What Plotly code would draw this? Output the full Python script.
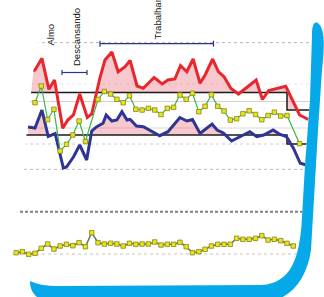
import numpy as np
import plotly.graph_objects as go

# ---------------- data (time index t, value v) ----------------
green_t = [0,1,2,3,4,5,6,7,8,10,11,12,13,14,15,16,17,18,19,20,21,22,23,24,25,26,27,28,29,30,
           31,32,33,34,35,36,37,38,39,40,42]
green_v = [194.3,211,177.5,187.7,146,152.7,162,176,155.5,197.5,205.5,203,197.7,194.3,201.3,187.7,
           187,188.7,187,182.5,188.7,189.7,202,197.7,203.7,185.3,190.7,202.3,190.7,186,
           177,178.3,183.2,186.2,182.5,177.3,181.5,184.8,181,181.5,153.3]

red_t = [-1.1,0,1.1,2.2,3.1,4.4,5.2,6.1,7.1,8.3,9,10.3,11.1,12.2,13.2,14.3,15.1,16.2,17.2,18.9,
         20.2,21.1,22.2,23.1,24.1,25.1,26.2,27.0,28.2,29.1,30.0,31.1,32.3,35.1,36.1,37.1,39.8,42.0,43.4]
red_v = [225,227,238.7,207.7,217,168.7,177,182,203,179.5,183,219,237,245,225.3,230.3,236.5,211,
         208.7,219.5,213,217,218,231.5,225.3,238,213.7,222,238,225.5,220.3,208.5,203,217,197.5,
         206.5,210.7,182,177.5]

blue_t = [-1.1,0,1.1,2.1,3.2,4.5,5.0,6.1,7.1,8.2,9.0,9.8,10.8,11.3,12.2,13.0,13.8,14.6,15.1,16.1,
          17.2,19.8,21.1,23.0,24.1,25.0,26.2,28.1,28.9,29.9,31.2,34.1,35.2,36.3,37.8,38.9,39.9,
          41.0,42.1,43.1]
blue_v = [170,169,187,160.5,163.5,129,130,140,152,137,166,170.3,173.7,182,176,177,185.3,177,177.7,
          171,170.3,161.3,165.3,179.5,176,177.5,163.5,173,167,164,156,165.3,160.3,162,167,162.5,
          160.5,149,133.7,132]

low_t = list(range(-3, 42))
low_v = [44.3,45.3,42.7,43.7,48.7,53,48,51,52.7,51.3,54.3,50.3,64.3,54.3,53,53.7,53,51,53.7,52.7,
         53,53,55,52,52.7,52.7,54.7,50.3,44.3,45.3,47.7,51,52.7,52.7,52.7,58.7,57.7,57.7,58.7,
         61.3,57,57.7,56.3,53.7,51]

# thresholds (step at t=40)
upper_t = [-2, 40, 40, 44]
upper_v = [204.5, 204.5, 187, 187]
lower_t = [-2, 40, 40, 44]
lower_v = [162, 162, 153, 153]

# reference grid lines (value units)
grid_vals = [254.3, 213, 195.5, 169, 153, 127.7, 85.3, 43]

labels = ["Almo", "Descansando", "Trabalhando"]

# ---------------- figure ----------------
fig = go.Figure()

def thr_fn(t, tt, vv):
    return np.where(t < tt[1], vv[0], vv[-1])

PINK = "rgba(236,120,135,0.40)"

g = np.arange(red_t[0], red_t[-1] + 1e-9, 0.01)
thr = thr_fn(g, upper_t, upper_v)
ri = np.interp(g, red_t, red_v)
fig.add_trace(go.Scatter(x=g, y=thr, mode="lines", line=dict(width=0), hoverinfo="skip", showlegend=False))
fig.add_trace(go.Scatter(x=g, y=np.maximum(ri, thr), mode="lines", line=dict(width=0), fill="tonexty",
                         fillcolor=PINK, hoverinfo="skip", showlegend=False))
g2 = np.arange(blue_t[0], blue_t[-1] + 1e-9, 0.01)
thr2 = thr_fn(g2, lower_t, lower_v)
bi = np.interp(g2, blue_t, blue_v)
fig.add_trace(go.Scatter(x=g2, y=thr2, mode="lines", line=dict(width=0), hoverinfo="skip", showlegend=False))
fig.add_trace(go.Scatter(x=g2, y=np.maximum(bi, thr2), mode="lines", line=dict(width=0), fill="tonexty",
                         fillcolor=PINK, hoverinfo="skip", showlegend=False))

for tt, vv in [(upper_t, upper_v), (lower_t, lower_v)]:
    fig.add_trace(go.Scatter(x=tt, y=vv, mode="lines", line=dict(color="#1b1b1b", width=1.5),
                             hoverinfo="skip", showlegend=False))

fig.add_trace(go.Scatter(x=red_t, y=red_v, mode="lines", line=dict(color="#e8262b", width=3),
                         showlegend=False))
fig.add_trace(go.Scatter(x=blue_t, y=blue_v, mode="lines", line=dict(color="#2e3592", width=3),
                         showlegend=False))
fig.add_trace(go.Scatter(x=green_t, y=green_v, mode="lines+markers",
                         line=dict(color="#3db54a", width=1.2),
                         marker=dict(symbol="square", size=4.5, color="#e8e41c",
                                     line=dict(color="#85851a", width=0.8)),
                         showlegend=False))
fig.add_trace(go.Scatter(x=low_t, y=low_v, mode="lines+markers",
                         line=dict(color="#6e6e50", width=1.5),
                         marker=dict(symbol="square", size=4.5, color="#e8e41c",
                                     line=dict(color="#85851a", width=0.8)),
                         showlegend=False))
fig.add_trace(go.Scatter(x=[None], y=[None], xaxis="x2", yaxis="y2", showlegend=False, hoverinfo="skip"))

shapes = []
grid_styles = [("#b4b4b4", 1, "3px,3px"), ("#e6e6e6", 1, "3px,3px"), ("#d2d2d2", 1, "solid"),
               ("#d8d8d8", 1, "solid"), ("#cccccc", 1, "3px,3px"), ("#bcbcbc", 1, "3px,3px"),
               ("#808080", 2, "3px,2px"), ("#c4c4c4", 1, "3px,3px")]
for v, (c, w, d) in zip(grid_vals, grid_styles):
    shapes.append(dict(type="line", xref="paper", yref="y", x0=0, x1=1, y0=v, y1=v,
                       line=dict(color=c, width=w, dash=d), layer="below"))

card = ("M 80,5 L 304,5 C 310,5 312,15 312,35 L 310,100 L 305,165 L 302,217 "
        "C 300,260 290,283 262,285 L 60,286 C 45,286 36,284 30,281 "
        "C 18,276 12,268 13,255 L 27,130 L 33,75 C 37,30 50,8 80,5 Z")
mask = "M 0,0 L 330,0 L 330,305 L 0,305 Z " + card
shapes.append(dict(type="path", xref="x2", yref="y2", path=mask, fillcolor="white",
                   fillrule="evenodd", line=dict(width=0), layer="above"))
band = ("M 30,281 C 30,292 36,300 50,302 L 268,302 C 292,298 307,278 311,250 L 318,130 "
        "L 322,70 C 324,50 326,30 318,23 C 314,21 312,25 312,35 L 310,100 L 305,165 L 302,217 "
        "C 300,260 290,283 262,285 L 60,286 C 45,286 36,284 30,281 Z")
shapes.append(dict(type="path", xref="x2", yref="y2", path=band, fillcolor="#05a8e8",
                   line=dict(width=0), layer="above"))

BR = "#2b3590"
for (x0, x1, y, tick) in [(62, 87, 72.5, 2.5), (100, 213.5, 43.7, 3)]:
    shapes.append(dict(type="line", xref="x2", yref="y2", x0=x0, x1=x1, y0=y, y1=y,
                       line=dict(color=BR, width=1.2), layer="above"))
    for xx in (x0, x1):
        shapes.append(dict(type="line", xref="x2", yref="y2", x0=xx, x1=xx, y0=y - tick, y1=y + tick,
                           line=dict(color=BR, width=1.2), layer="above"))

ann = []
for txt, x, y in zip(labels, [49.5, 76, 157], [48, 68, 42]):
    ann.append(dict(text=txt, x=x, y=y, xref="x2", yref="y2", textangle=-90, showarrow=False,
                    xanchor="center", yanchor="bottom",
                    font=dict(family="Liberation Sans, Arial", size=9.5, color="#111")))

fig.update_layout(
    width=324, height=297, autosize=False,
    margin=dict(l=0, r=0, t=0, b=0),
    paper_bgcolor="white", plot_bgcolor="white",
    xaxis=dict(range=[-5.556, 45.873], visible=False, showgrid=False, zeroline=False),
    yaxis=dict(range=[0, 297], visible=False, showgrid=False, zeroline=False),
    xaxis2=dict(range=[0, 324], overlaying="x", visible=False),
    yaxis2=dict(range=[297, 0], overlaying="y", visible=False),
    shapes=shapes, annotations=ann, showlegend=False,
)

fig.write_html("out.html", config={"displayModeBar": False},
               post_script="document.body.style.margin='0px';document.body.style.overflow='hidden';")
